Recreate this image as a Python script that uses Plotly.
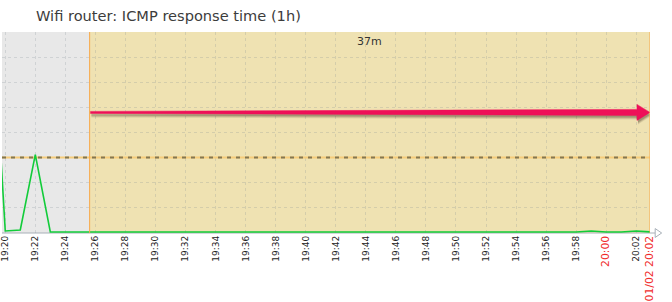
import plotly.graph_objects as go
from datetime import datetime, timedelta

day = "2024-01-02 "
times = ["19:19:00", "19:20:00", "19:21:00", "19:22:00", "19:23:00", "19:24:00",
         "19:25:00", "19:26:00", "19:27:00", "19:28:00", "19:29:00", "19:30:00",
         "19:31:00", "19:32:00", "19:33:00", "19:34:00", "19:35:00", "19:36:00",
         "19:37:00", "19:38:00", "19:39:00", "19:40:00", "19:41:00", "19:42:00",
         "19:43:00", "19:44:00", "19:45:00", "19:46:00", "19:47:00", "19:48:00",
         "19:49:00", "19:50:00", "19:51:00", "19:52:00", "19:53:00", "19:54:00",
         "19:55:00", "19:56:00", "19:57:00", "19:58:00", "19:59:00", "20:00:00",
         "20:01:00", "20:02:00", "20:03:00"]
response_ms = [510, 4, 6, 156, 2, 2,
               2, 2, 2, 2, 2, 2,
               2, 2, 2, 2, 2, 2,
               2, 2, 2, 2, 2, 2,
               2, 2, 2, 2, 2, 2,
               2, 2, 2, 2, 2, 2,
               2, 2, 2, 2, 4, 2,
               2, 4, 2]
threshold_ms = 150
range_start = "19:19:47"
range_end = "20:02:55"
problem_start = "19:25:37"
problem_label = "37m"
tick_times = ["19:20", "19:22", "19:24", "19:26", "19:28", "19:30", "19:32", "19:34",
              "19:36", "19:38", "19:40", "19:42", "19:44", "19:46", "19:48", "19:50",
              "19:52", "19:54", "19:56", "19:58", "20:00", "20:02"]
red_ticks = ["20:00"]
end_label = "01/02 20:02"
title = "Wifi router: ICMP response time (1h)"

# ---- style / geometry helpers ----
RED = "#f02c2c"
PINK = "#ee1058"
Y_MAX = 400
PLOT_W, PLOT_H = 650, 201
ARROW_LEVEL = 0.60  # fraction of plot height

fmt = "%Y-%m-%d %H:%M:%S"
x = [day + t for t in times]
x0 = day + range_start
x1 = day + range_end
xp = day + problem_start
t0 = datetime.strptime(x0, fmt)
t1 = datetime.strptime(x1, fmt)
tp = datetime.strptime(xp, fmt)
sec_per_px = (t1 - t0).total_seconds() / PLOT_W
u_per_px = Y_MAX / PLOT_H


def xs(t, dpx):
    return (t + timedelta(seconds=dpx * sec_per_px)).strftime(fmt)


yc = ARROW_LEVEL * Y_MAX


def arrow_poly(dx, dy):
    # tapered shaft (thin at start, thick at end) and triangular head
    pts = [
        (tp, 1, 1.0), (t1, -13, 3.0), (t1, -13, 8.0), (t1, 0, 0.0),
        (t1, -13, -8.0), (t1, -13, -3.0), (tp, 1, -1.0),
    ]
    px = [xs(t, d + dx) for t, d, _ in pts]
    py = [yc + (h - dy) * u_per_px for _, _, h in pts]
    return px + [px[0]], py + [py[0]]


def red(s):
    return "<span style='color:%s;font-size:10.8px'>%s</span>" % (RED, s)


tickvals = [day + t + ":00" for t in tick_times] + [x1]
ticktext = [red(t) if t in red_ticks else t for t in tick_times] + [red(end_label)]

fig = go.Figure()
# threshold line (trigger)
fig.add_trace(go.Scatter(x=[x0, x1], y=[threshold_ms, threshold_ms], mode="lines",
                         line=dict(color="#f6cc7a", width=2), hoverinfo="skip"))
fig.add_trace(go.Scatter(x=[x0, x1], y=[threshold_ms, threshold_ms], mode="lines",
                         line=dict(color="#837751", width=2, dash="4px,5px"), hoverinfo="skip"))
# problem duration arrow (shadow + arrow)
for dy, alpha in [(4, 0.12), (3, 0.18), (2, 0.25)]:
    sx, sy = arrow_poly(1, dy)
    fig.add_trace(go.Scatter(x=sx, y=sy, mode="lines", fill="toself",
                             fillcolor="rgba(70,55,40,%s)" % alpha, line=dict(width=0),
                             hoverinfo="skip"))
ax_, ay_ = arrow_poly(0, 0)
fig.add_trace(go.Scatter(x=ax_, y=ay_, mode="lines", fill="toself", fillcolor=PINK,
                         line=dict(width=0.5, color=PINK), hoverinfo="skip"))
# data
fig.add_trace(go.Scatter(x=x, y=response_ms, mode="lines",
                         line=dict(color="#12cc3a", width=1.6), hoverinfo="skip"))

shapes = [
    dict(type="rect", xref="x", yref="paper", x0=x0, x1=xp, y0=0, y1=1,
         fillcolor="#e8e8e8", line_width=0, layer="below"),
    dict(type="rect", xref="x", yref="paper", x0=xp, x1=x1, y0=0, y1=1,
         fillcolor="#efe2b2", line_width=0, layer="below"),
    dict(type="line", xref="x", yref="paper", x0=xp, x1=xp, y0=0, y1=1,
         line=dict(color="#f7a848", width=1)),
    dict(type="line", xref="x", yref="paper", x0=x1, x1=x1, y0=0, y1=1,
         line=dict(color="#f7a848", width=1)),
    dict(type="line", xref="paper", yref="paper", x0=0, x1=1.008, y0=0, y1=0,
         line=dict(color="#a8b0b8", width=1), layer="below"),
    dict(type="path", xref="paper", yref="paper",
         path="M 1.008 0.022 L 1.018 0 L 1.008 -0.022 Z",
         line=dict(color="#a8b0b8", width=1), fillcolor="white"),
]

mid_problem = (tp + (t1 - tp) / 2).strftime(fmt)

annotations = [
    dict(x=mid_problem, y=1, xref="x", yref="paper", yanchor="top", yshift=-1,
         text=problem_label, showarrow=False,
         font=dict(family="DejaVu Sans", size=11, color="#333")),
    dict(x=32 / PLOT_W, y=1 + (32 - 15) / PLOT_H, xref="paper", yref="paper", xanchor="left",
         yanchor="middle", text=title, showarrow=False,
         font=dict(family="DejaVu Sans", size=14.6, color="#3c3c3c")),
]

fig.update_layout(
    width=672, height=302,
    margin=dict(l=0, r=22, t=32, b=69),
    paper_bgcolor="white", plot_bgcolor="#e8e8e8",
    showlegend=False,
    shapes=shapes, annotations=annotations,
    xaxis=dict(type="date", range=[x0, x1], tickvals=tickvals, ticktext=ticktext,
               tickangle=-90, ticks="", showgrid=True, ticklabeloverflow="allow",
               gridcolor="rgba(120,130,140,0.22)", griddash="3px,3px",
               tickfont=dict(family="DejaVu Sans", size=9, color="#222"),
               zeroline=False, showline=False, fixedrange=True),
    yaxis=dict(range=[0, Y_MAX], dtick=50, showticklabels=False, ticks="",
               showgrid=True, gridcolor="rgba(120,130,140,0.22)", griddash="3px,3px",
               zeroline=False, showline=False, fixedrange=True),
)

fig.write_html("out.html")
